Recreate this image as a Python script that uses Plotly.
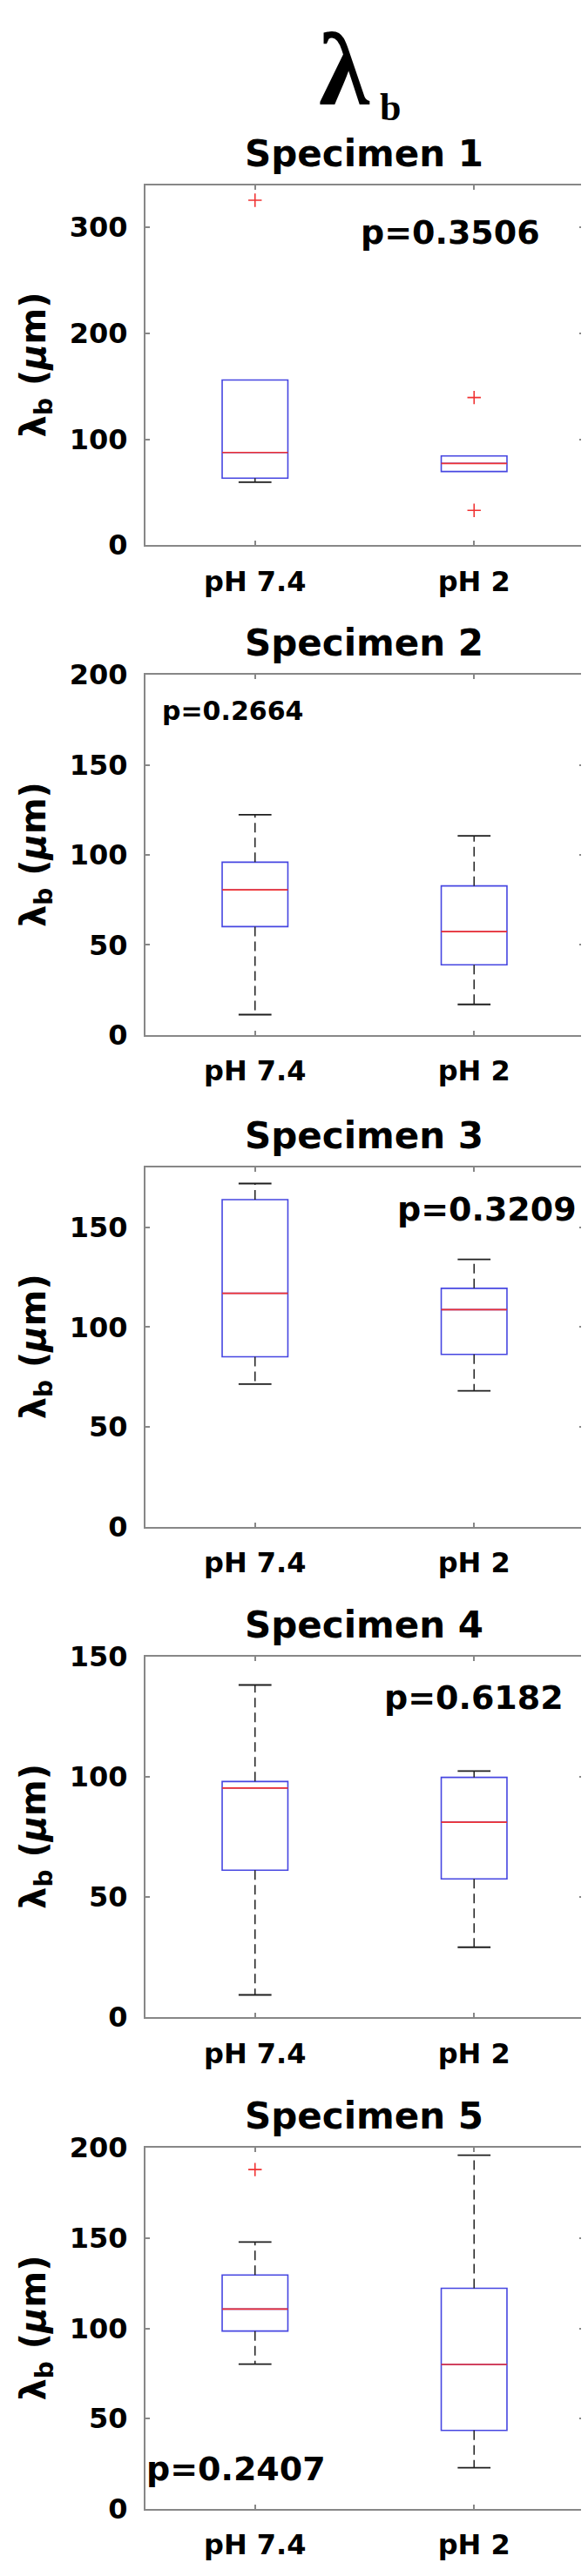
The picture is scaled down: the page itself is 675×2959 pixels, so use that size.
import plotly.graph_objects as go

# ---------------- data ----------------
categories = ["pH 7.4", "pH 2"]
specimens = ["Specimen 1", "Specimen 2", "Specimen 3", "Specimen 4", "Specimen 5"]
p_values = ["p=0.3506", "p=0.2664", "p=0.3209", "p=0.6182", "p=0.2407"]

median_ph74 = [87.5, 80.6, 116.9, 95.3, 110.7]
median_ph2 = [77.2, 57.4, 108.7, 81.1, 80.0]
q1_ph74 = [63.3, 60.2, 85.1, 61.1, 98.5]
q1_ph2 = [69.5, 39.0, 86.3, 57.5, 43.5]
q3_ph74 = [156.0, 96.0, 163.8, 98.0, 129.6]
q3_ph2 = [84.2, 82.8, 119.4, 99.7, 122.2]
lower_whisker_ph74 = [59.5, 11.3, 71.4, 9.3, 80.2]
lower_whisker_ph2 = [69.5, 17.0, 68.0, 29.1, 22.8]
upper_whisker_ph74 = [156.0, 122.3, 171.9, 138.1, 147.8]
upper_whisker_ph2 = [84.2, 110.6, 133.9, 102.3, 196.0]
outliers_ph74 = [[325.7], [], [], [], [188.0]]
outliers_ph2 = [[139.4, 32.8], [], [], [], []]

y_max = [340, 200, 180, 150, 200]
y_tick_step = [100, 50, 50, 50, 50]

# p-value label placement (fraction of plot width, data y) and size
p_pos_x = [0.695, 0.199, 0.780, 0.750, 0.206]
p_pos_y = [295, 180, 159, 133, 22]
p_size = [38, 30, 38, 38, 38]

# ---------------- layout geometry (page pixels) ----------------
W, H = 675, 2959
PLOT_L, PLOT_R = 159, 662
panel_top = [188, 758, 1331, 1900, 2472]
panel_bot = [607, 1177, 1749, 2320, 2892]


def fx(px):
    return px / W


def fy(py):
    return 1 - py / H


SANS = "DejaVu Sans, Liberation Sans, Arial, sans-serif"
SERIF = "Liberation Serif, Times New Roman, serif"
BLUE = "rgb(70,70,225)"
RED = "rgb(240,50,50)"
AX = "rgb(135,135,135)"

BOX_HALF = 0.15
CAP_HALF = 0.075

fig = go.Figure()
annotations = []
layout_axes = {}

for i in range(5):
    n = "" if i == 0 else str(i + 1)
    xa, ya = "x" + n, "y" + n
    pos = [1, 2]
    q1 = [q1_ph74[i], q1_ph2[i]]
    q3 = [q3_ph74[i], q3_ph2[i]]
    med = [median_ph74[i], median_ph2[i]]
    lw = [lower_whisker_ph74[i], lower_whisker_ph2[i]]
    uw = [upper_whisker_ph74[i], upper_whisker_ph2[i]]
    outs = [outliers_ph74[i], outliers_ph2[i]]

    # whiskers (dashed) and caps
    wx, wy, cx, cy = [], [], [], []
    for p, a, b, lo, hi in zip(pos, q1, q3, lw, uw):
        if hi > b:
            wx += [p, p, None]
            wy += [b, hi, None]
            cx += [p - CAP_HALF, p + CAP_HALF, None]
            cy += [hi, hi, None]
        if lo < a:
            wx += [p, p, None]
            wy += [a, lo, None]
            cx += [p - CAP_HALF, p + CAP_HALF, None]
            cy += [lo, lo, None]
    fig.add_trace(go.Scatter(x=wx, y=wy, mode="lines", xaxis=xa, yaxis=ya,
                             line=dict(color="rgb(40,40,40)", width=1.6, dash="11px,6px"),
                             hoverinfo="skip", showlegend=False))
    fig.add_trace(go.Scatter(x=cx, y=cy, mode="lines", xaxis=xa, yaxis=ya,
                             line=dict(color="rgb(30,30,30)", width=1.8),
                             hoverinfo="skip", showlegend=False))
    # boxes
    fig.add_trace(go.Box(x=pos, q1=q1, median=med, q3=q3, lowerfence=q1, upperfence=q3,
                         width=2 * BOX_HALF, whiskerwidth=0, boxpoints=False,
                         line=dict(color=BLUE, width=1.6), fillcolor="rgba(0,0,0,0)",
                         xaxis=xa, yaxis=ya, showlegend=False, hoverinfo="skip"))
    # medians (red)
    mx, my = [], []
    for p, m in zip(pos, med):
        mx += [p - BOX_HALF, p + BOX_HALF, None]
        my += [m, m, None]
    fig.add_trace(go.Scatter(x=mx, y=my, mode="lines", xaxis=xa, yaxis=ya,
                             line=dict(color=RED, width=1.7),
                             hoverinfo="skip", showlegend=False))
    # outliers
    ox, oy = [], []
    for p, o in zip(pos, outs):
        ox += [p] * len(o)
        oy += list(o)
    if ox:
        fig.add_trace(go.Scatter(x=ox, y=oy, mode="markers", xaxis=xa, yaxis=ya,
                                 marker=dict(symbol="cross-thin", size=11,
                                             line=dict(color=RED, width=1.6)),
                                 hoverinfo="skip", showlegend=False))

    ydom = [fy(panel_bot[i]), fy(panel_top[i])]
    layout_axes["xaxis" + n] = dict(
        domain=[fx(PLOT_L), fx(PLOT_R)], anchor=ya, range=[0.5, 2.5],
        tickmode="array", tickvals=pos, ticktext=categories,
        ticks="inside", ticklen=5, tickwidth=1.5, tickcolor=AX,
        showline=True, linecolor=AX, linewidth=2, mirror="allticks",
        showgrid=False, zeroline=False, ticklabelstandoff=12,
        tickfont=dict(family=SANS, size=32, color="black", weight="bold"))
    layout_axes["yaxis" + n] = dict(
        domain=ydom, anchor=xa, range=[0, y_max[i]],
        tickmode="array", tickvals=list(range(0, y_max[i] + 1, y_tick_step[i])),
        ticks="inside", ticklen=5, tickwidth=1.5, tickcolor=AX,
        showline=True, linecolor=AX, linewidth=2, mirror="allticks",
        showgrid=False, zeroline=False, ticklabelstandoff=12,
        tickfont=dict(family=SANS, size=32, color="black", weight="bold"))

    # subplot title
    annotations.append(dict(text=specimens[i], xref="paper", yref="paper",
                            x=fx((PLOT_L + PLOT_R) / 2), y=fy(panel_top[i] - 37),
                            xanchor="center", yanchor="middle", showarrow=False,
                            font=dict(family=SANS, size=42, color="black", weight="bold")))
    # y axis title
    annotations.append(dict(text="λ<sub>b</sub> (<i>μ</i>m)", xref="paper", yref="paper",
                            x=fx(33), y=fy((panel_top[i] + panel_bot[i]) / 2),
                            xanchor="center", yanchor="middle", textangle=-90, showarrow=False,
                            font=dict(family=SANS, size=40, color="black", weight="bold")))
    # p value
    annotations.append(dict(text=p_values[i], xref=xa + " domain", yref=ya,
                            x=p_pos_x[i], y=p_pos_y[i], xanchor="center", yanchor="middle",
                            showarrow=False,
                            font=dict(family=SANS, size=p_size[i], color="black", weight="bold")))

# main title λ_b
annotations.append(dict(text="λ", xref="paper", yref="paper", x=fx(387), y=fy(53),
                        xanchor="center", yanchor="middle", showarrow=False,
                        font=dict(family=SERIF, size=118, color="black", weight="bold")))
annotations.append(dict(text="b", xref="paper", yref="paper", x=fx(440), y=fy(98),
                        xanchor="center", yanchor="middle", showarrow=False,
                        font=dict(family=SERIF, size=44, color="black", weight="bold")))

fig.update_layout(width=W, height=H, margin=dict(l=0, r=0, t=0, b=0),
                  paper_bgcolor="white", plot_bgcolor="white",
                  annotations=annotations, showlegend=False, **layout_axes)

fig.write_html("out.html")
